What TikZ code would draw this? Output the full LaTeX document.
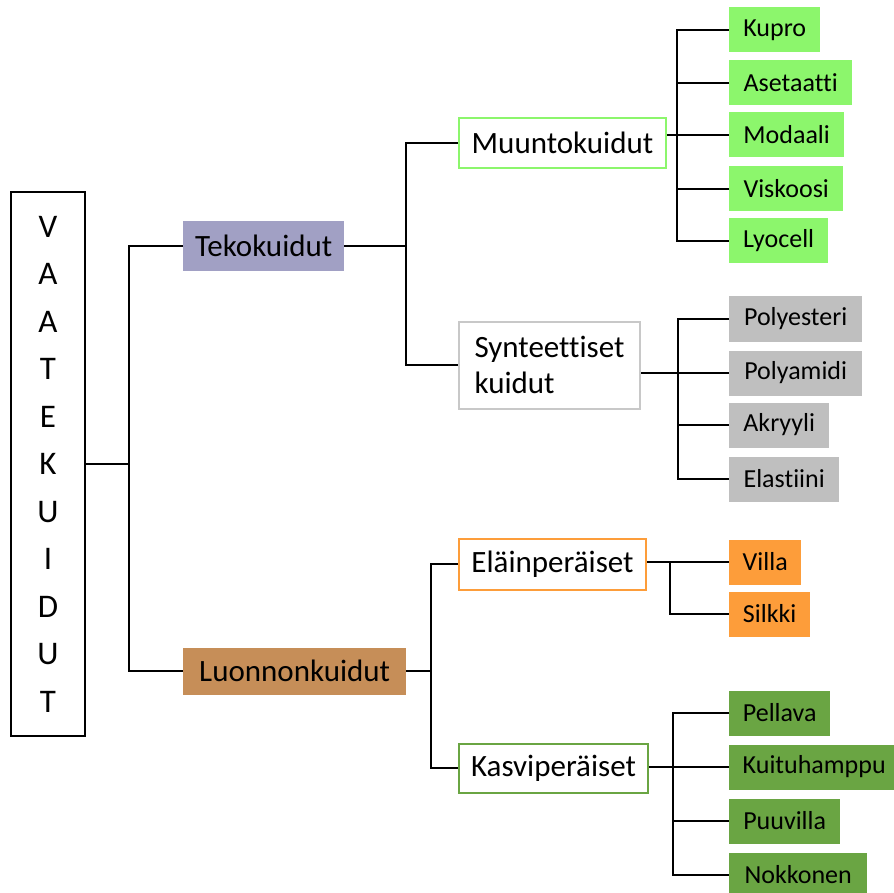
\documentclass[tikz,border=0pt]{standalone}
\usepackage{fontspec}
\setmainfont{Carlito}[Ligatures=NoCommon]
\usetikzlibrary{calc}
\definecolor{lav}{RGB}{161,160,196}
\definecolor{lgreen}{RGB}{140,246,108}
\definecolor{lgray}{RGB}{191,191,191}
\definecolor{bgray}{RGB}{200,200,200}
\definecolor{orng}{RGB}{253,157,58}
\definecolor{dgreen}{RGB}{106,165,67}
\definecolor{brwn}{RGB}{198,142,88}
\begin{document}
\begin{tikzpicture}[x=1pt,y=-1pt,
  conn/.style={draw=black,line width=2pt},
  base/.style={rectangle,inner sep=0pt,anchor=west},
  leaf/.style={base,font=\fontsize{26}{30}\selectfont,minimum height=45pt},
  midfont/.style={font=\fontsize{31}{35.5}\selectfont},
  mid/.style={base,midfont,minimum height=50pt,line width=2pt,fill=white},
  top/.style={base,midfont,minimum height=50pt},
  lgleaf/.style={leaf,fill=lgreen},
  grleaf/.style={leaf,fill=lgray},
  orleaf/.style={leaf,fill=orng},
  dgleaf/.style={leaf,fill=dgreen}]
\path[use as bounding box] (0,0) rectangle (894,893);
\clip (0,0) rectangle (894,893);

% root
\node[draw=black,line width=2pt,minimum width=74pt,minimum height=544pt,inner sep=0pt,
      align=center,font=\fontsize{33}{47.5}\selectfont] (root) at (48,464)
      {V\\A\\A\\T\\E\\K\\U\\I\\D\\U\\T};

% level 1
\node[top,fill=lav,minimum width=161pt] (teko) at (183,246) {Tekokuidut};
\node[top,fill=brwn,minimum width=223pt,minimum height=47pt] (luon) at (183,671) {Luonnonkuidut};

% level 2
\node[mid,draw=lgreen,minimum width=207pt] (muunto) at (458,143) {Muuntokuidut};
\node[mid,draw=bgray,minimum width=181pt,minimum height=87pt,align=left] (synt) at (458,365) {Synteettiset\\kuidut};
\node[mid,draw=orng,minimum width=187pt,minimum height=51pt] (elain) at (458,564) {Eläinperäiset};
\node[mid,draw=dgreen,minimum width=189pt,minimum height=49pt] (kasvi) at (458,768) {Kasviperäiset};

% leaves
\node[lgleaf,minimum width=91pt] (kupro) at (729,30) {Kupro};
\node[lgleaf,minimum width=123pt] (aset) at (729,83) {Asetaatti};
\node[lgleaf,minimum width=115pt] (modaali) at (729,135) {Modaali};
\node[lgleaf,minimum width=114pt] (visk) at (729,189) {Viskoosi};
\node[lgleaf,minimum width=99pt] (lyocell) at (729,241) {Lyocell};

\node[grleaf,minimum width=133pt] (polyest) at (729,319) {Polyesteri};
\node[grleaf,minimum width=133pt] (polyam) at (729,373) {Polyamidi};
\node[grleaf,minimum width=100pt] (akry) at (729,425) {Akryyli};
\node[grleaf,minimum width=110pt] (elast) at (729,479) {Elastiini};

\node[orleaf,minimum width=72pt] (villa) at (729,562) {Villa};
\node[orleaf,minimum width=81pt] (silkki) at (729,614) {Silkki};

\node[dgleaf,minimum width=101pt] (pellava) at (729,713) {Pellava};
\node[dgleaf,minimum width=170pt] (kuitu) at (729,767) {Kuituhamppu};
\node[dgleaf,minimum width=111pt] (puuv) at (729,821) {Puuvilla};
\node[dgleaf,minimum width=138pt] (nokko) at (729,875) {Nokkonen};

% connectors: root
\draw[conn] (root.east) -- ++(43,0);
\draw[conn] (teko.west) -| ($(root.east)+(43,0)$) |- (luon.west);

% Tekokuidut
\draw[conn] (teko.east) -- ++(62,0);
\draw[conn] (muunto.west) -| ($(teko.east)+(62,0)$) |- (synt.west);

% Muuntokuidut
\draw[conn] (kupro.west) -| ($(lyocell.west)+(-52,0)$) -- (lyocell.west);
\draw[conn] (aset.west) -- ++(-52,0);
\draw[conn] (visk.west) -- ++(-52,0);
\draw[conn] (muunto.east |- modaali.west) -- (modaali.west);

% Synteettiset
\draw[conn] (polyest.west) -| ($(elast.west)+(-51,0)$) -- (elast.west);
\draw[conn] (akry.west) -- ++(-51,0);
\draw[conn] (synt.east |- polyam.west) -- (polyam.west);

% Luonnonkuidut
\draw[conn] (luon.east) -- ++(25,0);
\draw[conn] (elain.west) -| ($(luon.east)+(25,0)$) |- (kasvi.west);

% Eläinperäiset
\draw[conn] (elain.east |- villa.west) -- (villa.west);
\draw[conn] (villa.west) ++(-59,0) |- (silkki.west);

% Kasviperäiset
\draw[conn] (pellava.west) -| ($(nokko.west)+(-56,0)$) -- (nokko.west);
\draw[conn] (puuv.west) -- ++(-56,0);
\draw[conn] (kasvi.east |- kuitu.west) -- (kuitu.west);
\end{tikzpicture}
\end{document}
